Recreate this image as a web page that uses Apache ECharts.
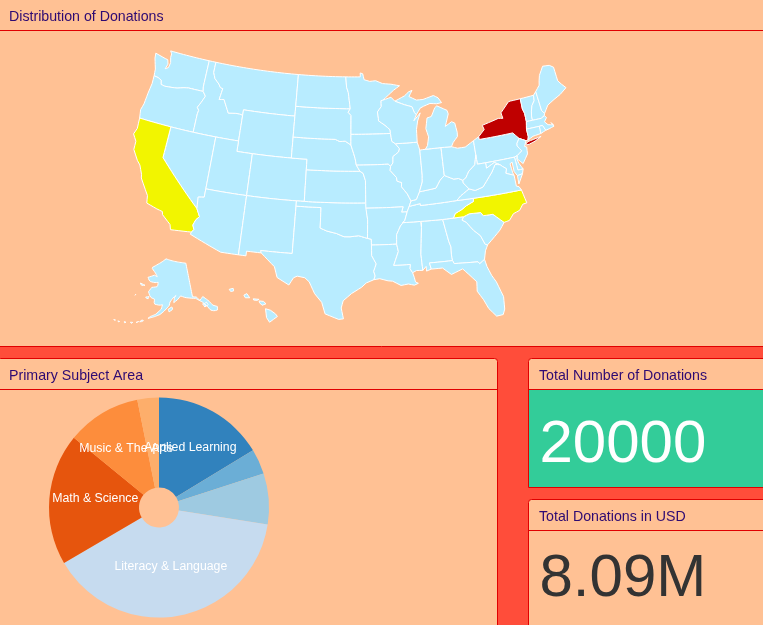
<!DOCTYPE html>
<html><head><meta charset="utf-8">
<style>html,body{margin:0;padding:0;width:763px;height:625px;overflow:hidden;background:#FF4D3A}#c{width:763px;height:625px}</style>
<script src="https://cdn.jsdelivr.net/npm/echarts@6/dist/echarts.min.js"></script>
</head><body><div id="c"></div>
<script>
// ---- data ----
const panelTitles = ["Distribution of Donations","Primary Subject Area","Total Number of Donations","Total Donations in USD"];
const totalDonationsLabel = "20000";
const totalUsdLabel = "8.09M";
const subjects = ["Applied Learning","Health & Sports","History & Civics","Literacy & Language","Math & Science","Music & The Arts","Special Needs"];
const subjectCounts = [3261,736,1497,7822,3867,2183,634];
const subjectColors = ["#3182bd","#6baed6","#9ecae1","#c6dbef","#e6550d","#fd8d3c","#fdae6b"];
// colour bucket per state: 1 = light (default), 2 = yellow, 3 = dark red
const highlightStates = ["California","North Carolina","New York"];
const highlightLevels = [2,2,3];

// ---- state outlines: "west-longitude latitude" rings ----
const shapes = {
Washington:["117.03 49 122.76 49 122.5 48.75 122.5 48.4 122.3 47.9 122.4 47.4 122.8 47.2 122.6 47.7 122.8 48.1 123.2 48.15 124.7 48.38 124.6 47.9 124.3 47.3 124.1 46.9 124 46.26 123.4 46.2 122.9 46.05 122.75 45.65 122.2 45.58 121.2 45.65 120.5 45.72 119.6 45.92 119 46 116.92 46 117.04 46.43"],
Oregon:["124 46.26 123.4 46.2 122.9 46.05 122.75 45.65 122.2 45.58 121.2 45.65 120.5 45.72 119.6 45.92 119 46 116.92 46 116.48 45.6 116.85 44.95 117.22 44.4 116.95 44.15 117.03 43.8 117.03 42 124.2 42 124.4 42.8 124.2 43.4 124.1 44.5 123.95 45.5"],
Idaho:["117.03 49 116.05 49 116.05 48 115.7 47.45 115 47 114.7 46.7 114.35 46.65 114.55 45.56 113.9 45.65 113.45 45.05 113 44.45 112 44.55 111.5 44.55 111.05 44.48 111.05 42 117.03 42 117.03 43.8 116.95 44.15 117.22 44.4 116.85 44.95 116.48 45.6 116.92 46 117.04 46.43"],
Montana:["116.05 49 104.05 49 104.05 45 111.05 45 111.05 44.48 111.5 44.55 112 44.55 113 44.45 113.45 45.05 113.9 45.65 114.55 45.56 114.35 46.65 114.7 46.7 115 47 115.7 47.45 116.05 48"],
Wyoming:["111.05 45 104.05 45 104.05 41 111.05 41"],
Nevada:["120 42 114.04 42 114.04 36.2 114.75 36.1 114.63 35 120 39"],
California:["124.2 42 120 42 120 39 114.63 35 114.15 34.3 114.5 33.95 114.72 33.4 114.5 33 114.72 32.72 117.12 32.53 117.3 33 118.4 33.75 118.5 34.03 119.2 34.15 120.5 34.45 120.65 35.15 121.9 36.6 122 36.95 122.5 37.75 122.95 38.1 123.75 39 123.8 39.8 124.35 40.4 124.1 41"],
Utah:["114.04 42 111.05 42 111.05 41 109.05 41 109.05 37 114.04 37"],
Arizona:["114.04 37 109.05 37 109.05 31.33 111.07 31.33 114.8 32.5 114.72 32.72 114.5 33 114.72 33.4 114.5 33.95 114.15 34.3 114.63 35 114.75 36.1 114.04 36.2"],
Colorado:["109.05 41 102.05 41 102.05 37 109.05 37"],
"New Mexico":["109.05 37 103 37 103.04 32 106.62 32 106.53 31.78 108.2 31.78 108.2 31.33 109.05 31.33"],
Texas:["103 36.5 100 36.5 100 34.56 99.2 34.3 98.1 34.1 97.2 33.8 96.5 33.8 95.5 33.9 94.48 33.64 94.04 33.55 94.04 33 94.04 32 93.55 31.2 93.85 30.5 93.7 30.05 93.85 29.7 94.7 29.4 95.2 29 96.3 28.4 97.2 27.7 97.4 27 97.15 25.96 97.65 25.9 99.1 26.4 99.5 27.5 100.3 28.3 100.95 29.4 101.45 29.77 102.3 29.88 102.7 29.7 103.15 28.98 104.5 29.6 104.9 30.6 106.53 31.78 106.62 32 103.04 32"],
Oklahoma:["103 37 94.62 37 94.43 35.4 94.48 33.64 95.5 33.9 96.5 33.8 97.2 33.8 98.1 34.1 99.2 34.3 100 34.56 100 36.5 103 36.5"],
Kansas:["102.05 40 95.3 40 94.9 39.8 94.62 39.1 94.62 37 102.05 37"],
Nebraska:["104.05 43 98.5 43 97.9 42.8 97.2 42.85 96.45 42.49 96.1 41.7 95.9 41.2 95.75 40.58 95.3 40 102.05 40 102.05 41 104.05 41"],
"South Dakota":["104.05 45.94 96.56 45.94 96.85 45.6 96.45 45.3 96.45 43.5 96.45 42.49 97.2 42.85 97.9 42.8 98.5 43 104.05 43"],
"North Dakota":["104.05 49 97.23 49 97.1 48 96.85 47.5 96.56 45.94 104.05 45.94"],
Minnesota:["97.23 49 95.15 49 95.15 49.38 94.8 49.3 94.6 48.72 93.8 48.55 92.95 48.6 92 48.3 90.8 48.2 89.6 48 90.5 47.6 92.05 46.7 92.3 46.66 92.3 46.1 92.85 45.6 92.75 45 92.75 44.75 91.9 44.3 91.25 43.85 91.22 43.5 96.45 43.5 96.45 45.3 96.85 45.6 96.56 45.94 96.85 47.5 97.1 48"],
Iowa:["96.45 43.5 91.22 43.5 91.1 42.75 90.65 42.5 90.15 42 90.3 41.7 91.05 41.3 91.1 40.7 91.42 40.38 91.7 40.6 95.75 40.58 95.9 41.2 96.1 41.7 96.45 42.49"],
Missouri:["95.75 40.58 91.7 40.6 91.42 40.38 91.5 40 90.75 39.3 90.7 38.95 90.15 38.8 90.2 38.4 89.55 37.7 89.15 37 89.42 36.5 89.7 36 90.37 36 90.15 36.5 94.62 36.5 94.62 39.1 94.9 39.8 95.3 40"],
Arkansas:["94.62 36.5 90.15 36.5 90.37 36 89.7 36 90.05 35.2 90.6 34.7 91.1 33.9 91.15 33 94.04 33 94.04 33.55 94.48 33.64 94.43 35.4"],
Louisiana:["94.04 33 91.15 33 91 32.3 91.6 31 89.73 31 89.8 30.6 89.55 30.2 89.4 29.75 89.3 29.3 89 29.15 89.45 29 90.1 29.15 90.9 29.05 91.8 29.5 92.3 29.55 93.2 29.78 93.85 29.7 93.7 30.05 93.85 30.5 93.55 31.2 94.04 32"],
Mississippi:["91.15 33 91.1 33.9 90.6 34.7 90.05 35.2 90.3 35 88.2 35 88.1 34.9 88.47 31.9 88.4 30.35 89.1 30.38 89.55 30.2 89.8 30.6 89.73 31 91.6 31 91 32.3"],
Alabama:["88.2 35 85.6 34.98 85.18 32.87 85 32.3 85.05 31.55 85 31 87.6 31 87.45 30.4 88 30.25 88 30.7 88.4 30.35 88.47 31.9 88.1 34.9"],
Georgia:["85.6 34.98 83.1 35 83.35 34.7 82.9 34.45 82.2 33.6 81.5 33 81.1 32.1 80.85 32.03 81.2 31.5 81.45 30.71 82.05 30.36 82.2 30.57 84.86 30.7 85 31 85.05 31.55 85 32.3 85.18 32.87"],
Florida:["87.6 31 85 31 84.86 30.7 82.2 30.57 82.05 30.36 81.45 30.71 81.3 30 80.95 29.1 80.55 28.4 80.05 26.9 80.15 25.7 80.4 25.2 81.1 25.15 81.8 26 82.2 26.9 82.75 27.8 82.65 28.7 83.4 29.5 84 30.1 85.3 29.7 86.2 30.4 87.45 30.4"],
"South Carolina":["83.1 35 82.4 35.2 81.05 35.15 80.8 34.82 79.67 34.8 78.55 33.86 79.2 33.2 79.9 32.7 80.85 32.03 81.1 32.1 81.5 33 82.2 33.6 82.9 34.45 83.35 34.7"],
"North Carolina":["84.32 35 83.1 35 82.4 35.2 81.05 35.15 80.8 34.82 79.67 34.8 78.55 33.86 77.9 33.95 77.3 34.5 76.5 34.7 76 35.2 75.5 35.25 75.8 36.55 81.68 36.59 81.7 36.3 82.6 36 83.2 35.7 84.05 35.4"],
Tennessee:["90.3 35 88.2 35 85.6 34.98 84.32 35 84.05 35.4 83.2 35.7 82.6 36 81.7 36.3 81.68 36.59 83.68 36.6 88.07 36.5 88.07 36.68 89.42 36.5 89.7 36 90.05 35.2"],
Kentucky:["89.42 36.5 88.07 36.68 88.07 36.5 83.68 36.6 83.1 37 82 37.53 82.6 38.17 82.6 38.42 83.1 38.65 83.7 38.65 84.8 39.1 85.4 38.7 86 38 87 37.9 88.05 37.8 88.5 37.1 89.15 37"],
Illinois:["90.65 42.5 87.8 42.5 87.55 41.72 87.53 39.35 87.6 38.7 88.05 37.8 88.5 37.1 89.15 37 89.55 37.7 90.2 38.4 90.15 38.8 90.7 38.95 90.75 39.3 91.5 40 91.42 40.38 91.1 40.7 91.05 41.3 90.3 41.7 90.15 42"],
Indiana:["87.55 41.72 87.2 41.75 84.8 41.76 84.8 39.1 85.4 38.7 86 38 87 37.9 88.05 37.8 87.6 38.7 87.53 39.35"],
Ohio:["84.8 41.76 83.45 41.72 82.7 41.5 81.7 41.5 80.52 41.98 80.52 40.64 80.85 39.7 81.7 39.2 82.2 38.6 82.6 38.42 83.1 38.65 83.7 38.65 84.8 39.1"],
Michigan:["86.82 41.76 84.8 41.76 83.45 41.72 83.15 42.1 82.5 42.6 82.45 43 82.6 43.9 83 44.07 83.9 43.7 83.3 44.85 83.4 45.2 84.7 45.75 85 45.6 85.6 44.8 86.2 44.7 86.5 43.7 86.25 42.9 86.5 42.1",
 "90.4 46.55 89 47 88.4 47.35 87.9 47.47 88.4 46.9 87.4 46.5 86.5 46.5 85 46.77 84.4 46.5 84 46 84.7 45.95 85.6 46.05 86.5 45.85 87 45.7 87.6 45.1 87.85 45.35 88.1 45.9 89.1 46.15"],
Wisconsin:["92.05 46.7 90.9 46.95 90.4 46.55 89.1 46.15 88.1 45.9 87.85 45.35 87.6 45.1 88 44.55 87.05 45.25 87.5 44.5 87.75 43.7 87.8 42.5 90.65 42.5 91.1 42.75 91.22 43.5 91.25 43.85 91.9 44.3 92.75 44.75 92.75 45 92.85 45.6 92.3 46.1 92.3 46.66"],
Pennsylvania:["80.52 41.98 79.76 42.27 79.76 42 75.35 42 74.7 41.36 75.1 40.95 75.15 40.7 74.72 40.15 75.42 39.8 75.79 39.72 80.52 39.72 80.52 40.64"],
"New York":["79.76 42 79.76 42.27 78.9 42.85 79.05 43.27 76.8 43.63 76.2 43.55 76.3 44.1 75 44.98 74.7 45 73.35 45 73.4 44 73.25 43.55 73.28 42.75 73.5 42.05 73.5 41.3 73.65 41 73.9 41 74.7 41.36 75.35 42",
 "74 40.6 73.6 40.6 72.8 40.75 71.9 41.05 72.6 40.98 73.7 40.87 74 40.7"],
Vermont:["73.35 45 71.5 45.01 71.6 44.5 72.05 44.1 72.3 43.6 72.45 43.15 72.46 42.73 73.28 42.75 73.25 43.55 73.4 44"],
"New Hampshire":["71.5 45.01 71.08 45.3 70.98 43.4 70.7 43.07 70.82 42.87 71.3 42.7 72.46 42.73 72.45 43.15 72.3 43.6 72.05 44.1 71.6 44.5"],
Maine:["71.08 45.3 70.4 45.8 70.25 46.2 70 46.7 69.23 47.46 68.3 47.36 67.8 47.07 67.8 45.7 67.45 45.3 67 44.85 68 44.4 69 44.1 70 43.75 70.7 43.07 70.98 43.4"],
Massachusetts:["73.5 42.05 73.28 42.75 72.46 42.73 71.3 42.7 70.82 42.87 70.6 42.65 71 42.3 70.65 41.95 70 41.8 70.2 42.07 69.95 41.67 70.65 41.55 71.12 41.5 71.38 42.02 71.8 42.02"],
"Rhode Island":["71.8 42.02 71.38 42.02 71.12 41.5 71.85 41.32"],
Connecticut:["73.5 42.05 71.8 42.02 71.85 41.32 72.9 41.25 73.65 41 73.5 41.3"],
"New Jersey":["74.7 41.36 73.9 41 74.25 40.5 74 40.4 74.1 39.75 74.9 38.95 75.5 39.5 75.42 39.8 74.72 40.15 75.15 40.7 75.1 40.95"],
Delaware:["75.42 39.8 75.79 39.72 75.7 38.46 75.05 38.45 75.4 39.05 75.55 39.5"],
Maryland:["79.48 39.72 75.79 39.72 75.7 38.46 75.05 38.45 75.25 38.03 75.9 37.95 76.2 38.4 76.2 39.3 76.5 39.2 76.4 38.3 76.3 38.05 77 38.3 77.25 38.4 77.05 38.8 77.5 39.1 77.75 39.3 78.4 39.6 79.48 39.2"],
Virginia:["83.68 36.6 81.68 36.59 75.8 36.55 76 36.9 76.3 37 76.3 37.5 76.3 38.05 77 38.3 77.25 38.4 77.05 38.8 77.5 39.1 77.75 39.3 78.35 39.4 78.9 38.75 79.3 38.4 80.3 37.5 81.3 37.3 82 37.53 83.1 37",
 "75.9 37.95 75.25 38.03 75.95 37.15"],
"West Virginia":["82.6 38.17 82 37.53 81.3 37.3 80.3 37.5 79.3 38.4 78.9 38.75 78.35 39.4 77.75 39.3 78.4 39.6 79.48 39.2 79.48 39.72 80.52 39.72 80.52 40.64 80.85 39.7 81.7 39.2 82.2 38.6 82.6 38.42"],
Alaska:["141 69.65 141 60.3 139 60 137.5 58.9 135.5 59.7 133.5 58.4 131.8 56.6 130 55.9 130.5 55 132 55 133.5 55.5 134.5 56.5 135.5 57.5 136.5 58.3 139.5 59.7 142 60 145 60.4 147.5 61 149.5 60 151.5 59.3 151 60.8 150 61.2 152 60.5 153.5 59.5 154 58.5 156.5 57 158.5 56 161 55.3 164 54.6 163 55.2 160.5 56 158 57.5 157.5 58.7 159 58.5 162 58.7 162 60 164.5 60.4 166 61.8 165 62.7 164.5 63.1 161 63.5 161 64.7 163 64.5 166.5 64.6 168 65.6 164 66.5 162 66.2 163.5 67.1 166.8 68.4 163 69.5 160 70.3 156.5 71.3 152 70.8 148 70.4 144 70",
 "154.5 57.5 152.2 58.3 152.4 57.4 154 56.8",
 "167 60.2 165.2 60.5 165.5 59.9 166.8 59.9",
 "172.7 60.3 172.2 60.2 172.9 60",
 "171.8 63.6 168.8 63.3 170.5 63.1 171.8 63.3",
 "166.6 53.9 167.5 53.3 166.2 53.5 165.6 54.1",
 "169 52.9 168 53.3 168.5 53.1",
 "171.5 52.6 170.5 52.7 171 52.35",
 "174.2 52.3 173 52.2 174 52",
 "177 51.9 176.2 51.9 176.6 51.7",
 "178.9 51.85 177.7 51.9 178.3 51.65",
 "134.5 58 134 57.2 134.9 56.9 135.6 57.7",
 "136 57.9 135.2 57 135.9 56.8 136.6 57.8"],
Hawaii:["159.75 22.1 159.35 22.2 159.3 21.95 159.6 21.9","158.25 21.55 157.95 21.7 157.65 21.3 158.1 21.3","157.3 21.2 156.7 21.15 156.9 21.05 157.25 21.08","156.7 21 156.25 20.95 156 20.72 156.4 20.58 156.65 20.82","156.05 20.25 155.55 20.1 155.05 19.75 154.85 19.5 155.65 18.95 155.95 19.4"]
};

// ---- projection: composite Albers (lower 48, Alaska, Hawaii) ----
const rad = Math.PI / 180;
function conic(rot, p1, p2, cLon, cLat, k, tx, ty) {
  const n = (Math.sin(p1*rad) + Math.sin(p2*rad)) / 2;
  const C = Math.cos(p1*rad)*Math.cos(p1*rad) + 2*n*Math.sin(p1*rad);
  const raw = (l, f) => { const r = Math.sqrt(C - 2*n*Math.sin(f*rad))/n, t = n*l*rad; return [r*Math.sin(t), r*Math.cos(t)]; };
  const c = raw(cLon, cLat);
  return (lon, lat) => { const q = raw(lon + rot, lat); return [tx + k*(q[0]-c[0]), ty + k*(q[1]-c[1])]; };
}
const K = 600, TX = 349.5, TY = 185;
const lower = conic(96, 29.5, 45.5, -0.6, 38.7, K, TX, TY);
const alaska = conic(154, 55, 65, -2, 58.5, 0.35*K, TX - 0.307*K, TY + 0.201*K);
const hawaii = conic(157, 8, 18, -3, 19.9, K, TX - 0.205*K, TY + 0.212*K);
function usaProject(p) {
  if (p[1] > 50 && p[0] < -125) return alaska(p[0], p[1]);
  if (p[1] < 24 && p[0] < -150) return hawaii(p[0], p[1]);
  return lower(p[0], p[1]);
}

function ring(str) {
  const v = str.trim().split(/\s+/).map(Number), pts = [];
  for (let i = 0; i < v.length; i += 2) pts.push([-v[i], v[i+1]]);
  pts.push(pts[0]);
  const out = [pts[0]];
  for (let i = 1; i < pts.length; i++) {
    const a = pts[i-1], b = pts[i], steps = Math.ceil(Math.max(Math.abs(a[0]-b[0]), Math.abs(a[1]-b[1])) / 0.5) || 1;
    for (let s = 1; s <= steps; s++) out.push([a[0]+(b[0]-a[0])*s/steps, a[1]+(b[1]-a[1])*s/steps]);
  }
  return out;
}
const features = Object.keys(shapes).map(name => ({
  type: "Feature", properties: { name },
  geometry: { type: "MultiPolygon", coordinates: shapes[name].map(s => [ring(s)]) }
}));
echarts.registerMap("USA", { type: "FeatureCollection", features });

// exact placement: projected coordinates are page pixels
let x0=1e9,x1=-1e9,y0=1e9,y1=-1e9;
features.forEach(f => f.geometry.coordinates.forEach(pg => pg[0].forEach(pt => {
  const q = usaProject(pt); x0=Math.min(x0,q[0]); x1=Math.max(x1,q[0]); y0=Math.min(y0,q[1]); y1=Math.max(y1,q[1]);
})));

const PEACH = "#FFC194", RED = "#E00000", BAND = "#FF4D3A", INK = "#2E0A72";
const panel = (x, y, w, h, fill) => ({ type: "rect", z: -10, shape: { x: x+.5, y: y+.5, width: w, height: h, r: [3,3,0,0] }, style: { fill: fill || PEACH, stroke: RED, lineWidth: 1 } });
const hline = (x, y, w) => ({ type: "rect", z: -9, shape: { x, y, width: w, height: 1 }, style: { fill: RED } });
const txt = (x, y, t, size, fill) => ({ type: "text", z: 5, x, y, style: { text: t, fill, fontSize: size, fontFamily: "'Liberation Sans', Arial, sans-serif", textAlign: "left", textVerticalAlign: "middle" } });

// slice mid-angles, used to place the labels at the reference's radius
const subjectTotal = subjectCounts.reduce((a, b) => a + b, 0);
const midAngles = subjectCounts.map((v, i) => (subjectCounts.slice(0, i).reduce((a, b) => a + b, 0) + v / 2) / subjectTotal * 2 * Math.PI);

const chart = echarts.init(document.getElementById("c"), null, { renderer: "canvas" });
chart.setOption({
  animation: false,
  backgroundColor: BAND,
  graphic: { elements: [
    panel(-3, -3, 769, 349),
    panel(-3, 358, 500, 275),
    panel(528, 358, 240, 129),
    { type: "rect", z: -9, shape: { x: 529, y: 390, width: 240, height: 97 }, style: { fill: "#33CC99" } },
    panel(528, 499, 240, 135),
    hline(0, 30, 763), hline(0, 389, 497), hline(529, 389, 234), hline(529, 530, 234),
    txt(9, 17, panelTitles[0], 14.2, INK),
    txt(9, 376, panelTitles[1], 14.2, INK),
    txt(539, 376, panelTitles[2], 14.2, INK),
    txt(539, 517, panelTitles[3], 14.2, INK),
    txt(539.5, 445, totalDonationsLabel, 60, "#FFFFFF"),
    txt(539.5, 579.5, totalUsdLabel, 60, "#333333")
  ] },
  visualMap: { show: false, type: "piecewise", seriesIndex: 0, dimension: 0, pieces: [
    { value: 1, color: "#B8ECFF" }, { value: 2, color: "#F2F500" }, { value: 3, color: "#BF0000" }
  ] },
  geo: {
    map: "USA", silent: true, roam: false,
    projection: { project: usaProject, unproject: p => p },
    layoutCenter: [(x0+x1)/2, (y0+y1)/2], layoutSize: Math.max(x1-x0, y1-y0),
    label: { show: false },
    itemStyle: { areaColor: "#B8ECFF", borderColor: "#FFFFFF", borderWidth: 1 },
    emphasis: { disabled: true }, select: { disabled: true }
  },
  series: [
    { type: "map", geoIndex: 0, silent: true, showLegendSymbol: false,
      data: Object.keys(shapes).map(name => {
        const i = highlightStates.indexOf(name);
        return { name, value: i < 0 ? 1 : highlightLevels[i] };
      }) },
    { type: "pie", silent: true, center: [159, 507.5], radius: [20, 110], startAngle: 90,
      avoidLabelOverlap: false, minShowLabelAngle: 28.6,
      color: subjectColors,
      label: { show: true, position: "inside", color: "#FFFFFF", fontSize: 12.3, fontFamily: "'Liberation Sans', Arial, sans-serif", formatter: "{b}", overflow: "none" },
      labelLine: { show: false },
      labelLayout: p => ({ hideOverlap: false, dx: -4 * Math.sin(midAngles[p.dataIndex]), dy: 4 * Math.cos(midAngles[p.dataIndex]) - 4 }),
      itemStyle: { borderWidth: 0 },
      data: subjects.map((name, i) => ({ name, value: subjectCounts[i] })) }
  ]
});
</script></body></html>
